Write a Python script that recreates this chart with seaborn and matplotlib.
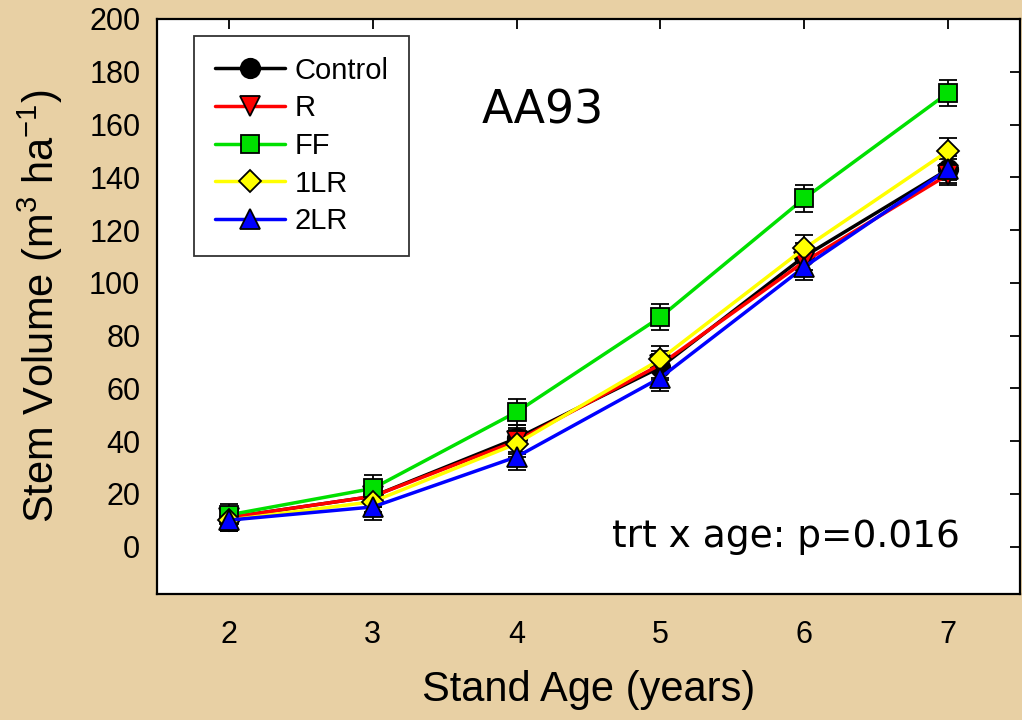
import matplotlib
matplotlib.use("Agg")
import matplotlib.pyplot as plt
import seaborn as sns
import pandas as pd
import numpy as np
from matplotlib.lines import Line2D

ages = [2, 3, 4, 5, 6, 7]
treatments = ["Control", "R", "FF", "1LR", "2LR"]
control = [11, 19, 41, 68, 110, 143]
r_vals = [11, 19, 40, 69, 108, 141]
ff = [12, 22, 51, 87, 132, 172]
lr1 = [10, 17, 39, 71, 113, 150]
lr2 = [10, 15, 34, 64, 106, 143]
control_se = [4, 4, 5, 5, 5, 4]
r_se = [4, 4, 5, 5, 5, 4]
ff_se = [4, 5, 5, 5, 5, 5]
lr1_se = [4, 4, 5, 5, 5, 5]
lr2_se = [4, 5, 5, 5, 5, 5]

values = {"Control": control, "R": r_vals, "FF": ff, "1LR": lr1, "2LR": lr2}
errors = {"Control": control_se, "R": r_se, "FF": ff_se, "1LR": lr1_se, "2LR": lr2_se}
colors = {"Control": "#000000", "R": "#FF0000", "FF": "#00E000", "1LR": "#FFFF00", "2LR": "#0000FF"}
markers = {"Control": "o", "R": "v", "FF": "s", "1LR": "D", "2LR": "^"}
msizes = {"Control": 14, "R": 14, "FF": 12.5, "1LR": 11.5, "2LR": 14}

rows = []
for t in treatments:
    for a, v in zip(ages, values[t]):
        rows.append({"age": a, "volume": v, "trt": t})
df = pd.DataFrame(rows)

sns.set_style("white")
plt.rcParams["font.family"] = ["Liberation Sans", "DejaVu Sans"]
plt.rcParams["text.color"] = "black"
plt.rcParams["axes.labelcolor"] = "black"
plt.rcParams["mathtext.fontset"] = "custom"
plt.rcParams["mathtext.rm"] = "Liberation Sans"
plt.rcParams["mathtext.it"] = "Liberation Sans:italic"
plt.rcParams["mathtext.bf"] = "Liberation Sans:bold"

bg = "#E8D0A4"
fig = plt.figure(figsize=(10.22, 7.2), dpi=100, facecolor=bg)
ax = fig.add_axes([157 / 1022, 1 - 594 / 720, (1020 - 157) / 1022, (594 - 19) / 720])
ax.set_facecolor("white")

for t in treatments:
    ax.errorbar(ages, values[t], yerr=errors[t], fmt="none", ecolor="black",
                elinewidth=1.3, capsize=6.5, capthick=1.3, zorder=2)

for i, t in enumerate(treatments):
    sub = df[df["trt"] == t]
    sns.lineplot(data=sub, x="age", y="volume", color=colors[t], marker=markers[t],
                 linewidth=2.5, markersize=msizes[t], markerfacecolor=colors[t],
                 markeredgecolor="black", markeredgewidth=1.3, ax=ax, legend=False,
                 zorder=3 + i)

ax.set_xlim(1.5, 7.5)
ax.set_ylim(-18, 200)
ax.set_xticks(ages)
ax.set_yticks(np.arange(0, 201, 20))
ax.tick_params(direction="in", length=7, width=1.3, top=True, right=True,
               labelsize=22, labeltop=False, labelright=False, colors="black")
ax.tick_params(axis="y", pad=12)
ax.tick_params(axis="x", pad=19)
for s in ax.spines.values():
    s.set_color("black")
    s.set_linewidth(1.6)

ax.set_xlabel("Stand Age (years)", fontsize=30, labelpad=14)
ax.set_ylabel("Stem Volume (m$^{\\mathregular{3}}$ ha$^{\\mathregular{-1}}$)", fontsize=30, labelpad=17)

handles = [Line2D([], [], color=colors[t], marker=markers[t], markersize=msizes[t],
                  markerfacecolor=colors[t], markeredgecolor="black", markeredgewidth=1.3,
                  linewidth=2.5) for t in treatments]
leg = ax.legend(handles, treatments, loc="upper left", bbox_to_anchor=(0.043, 0.97),
                fontsize=21, frameon=True, fancybox=False, edgecolor="black",
                handlelength=2.4, handletextpad=0.35, labelspacing=0.33, borderpad=0.7,
                borderaxespad=0)
leg.get_frame().set_linewidth(1.3)
for txt in leg.get_texts():
    txt.set_color("black")

ax.text(0.376, 0.84, "AA93", transform=ax.transAxes, fontsize=33, ha="left", va="center",
        family="DejaVu Sans")
ax.text(0.527, 0.099, "trt x age: p=0.016", transform=ax.transAxes, fontsize=27,
        ha="left", va="center", family="DejaVu Sans")

fig.savefig("out.png", dpi=100, facecolor=bg)
